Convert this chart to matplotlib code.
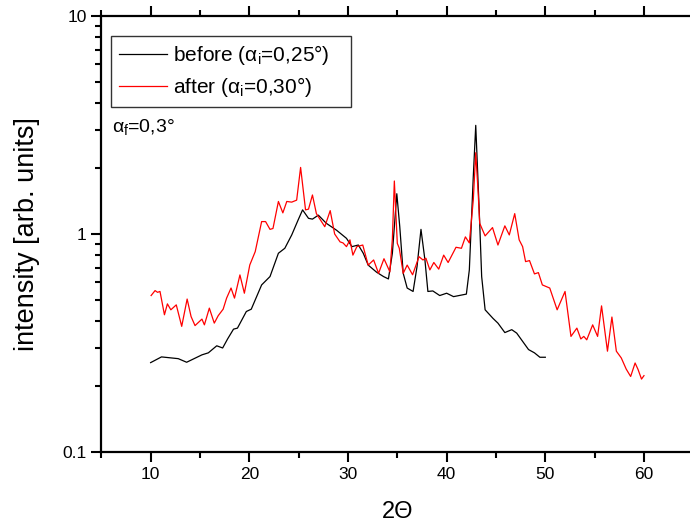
import matplotlib
matplotlib.use('Agg')
import matplotlib.pyplot as plt
from matplotlib.ticker import LogLocator, FixedLocator, FuncFormatter, MultipleLocator

plt.rcParams['font.family'] = ['Liberation Sans', 'DejaVu Sans']
plt.rcParams['mathtext.fontset'] = 'custom'
plt.rcParams['mathtext.rm'] = 'Liberation Sans'
plt.rcParams['mathtext.it'] = 'Liberation Sans'

# before (alpha_i = 0,25 deg)
before_x = [10.0, 11.1, 12.8, 13.65, 15.2, 15.85, 16.7, 17.3, 17.8, 18.4, 18.8, 19.7,
            20.2, 21.25, 22.1, 22.95, 23.6, 24.3, 24.95, 25.4, 26.0, 26.4, 27.0, 27.8,
            28.85, 29.85, 30.4, 31.05, 31.55, 32.05, 32.9, 33.6, 34.1, 34.5, 34.95, 35.25,
            35.6, 36.0, 36.6, 37.0, 37.4, 37.8, 38.1, 38.6, 39.3, 40.0, 40.7, 42.0,
            42.3, 42.7, 42.95, 43.3, 43.55, 43.9, 44.7, 45.2, 45.9, 46.6, 47.1, 48.3,
            48.9, 49.45, 50.0]
before_y = [0.257, 0.273, 0.268, 0.258, 0.279, 0.285, 0.307, 0.300, 0.33, 0.366, 0.370, 0.441,
            0.452, 0.584, 0.638, 0.816, 0.86, 0.99, 1.16, 1.29, 1.18, 1.17, 1.22, 1.12,
            1.04, 0.955, 0.875, 0.89, 0.816, 0.72, 0.668, 0.638, 0.622, 0.816, 1.53, 1.08,
            0.66, 0.565, 0.545, 0.709, 1.05, 0.76, 0.545, 0.548, 0.522, 0.535, 0.516, 0.53,
            0.684, 1.83, 3.15, 1.29, 0.638, 0.449, 0.41, 0.39, 0.353, 0.364, 0.351, 0.295,
            0.285, 0.272, 0.272]

# after (alpha_i = 0,30 deg)
after_x = [10.05, 10.45, 10.7, 10.95, 11.4, 11.7, 12.05, 12.6, 13.15, 13.7, 14.1, 14.5,
           15.2, 15.45, 15.95, 16.45, 16.85, 17.35, 17.7, 18.15, 18.5, 19.05, 19.5, 20.05,
           20.6, 21.25, 21.65, 22.1, 22.4, 22.95, 23.4, 23.8, 24.3, 24.8, 25.2, 25.7,
           26.0, 26.4, 26.8, 27.65, 28.2, 28.65, 29.2, 29.5, 29.85, 30.2, 30.5, 30.9,
           31.5, 32.05, 32.6, 33.1, 33.65, 34.25, 34.5, 34.7, 35.0, 35.2, 35.6, 36.0,
           36.55, 37.2, 37.6, 37.9, 38.3, 38.7, 39.2, 39.7, 40.15, 40.95, 41.5, 41.9,
           42.3, 42.7, 42.95, 43.2, 43.35, 43.9, 44.65, 45.2, 45.9, 46.35, 46.9, 47.35,
           47.7, 48.0, 48.4, 48.9, 49.3, 49.7, 50.45, 51.2, 52.0, 52.6, 53.2, 53.6,
           53.9, 54.2, 54.8, 55.3, 55.7, 56.3, 56.75, 57.2, 57.7, 58.2, 58.65, 59.1,
           59.4, 59.75, 60.0]
after_y = [0.522, 0.55, 0.54, 0.545, 0.426, 0.478, 0.449, 0.473, 0.377, 0.503, 0.418, 0.38,
           0.407, 0.383, 0.457, 0.39, 0.422, 0.452, 0.508, 0.565, 0.508, 0.649, 0.535, 0.721,
           0.83, 1.14, 1.14, 1.05, 1.06, 1.41, 1.25, 1.41, 1.40, 1.43, 2.02, 1.29,
           1.30, 1.51, 1.24, 1.08, 1.28, 1.0, 0.92, 0.91, 0.875, 0.94, 0.80, 0.875,
           0.89, 0.72, 0.76, 0.66, 0.77, 0.67, 0.95, 1.75, 0.906, 0.86, 0.66, 0.72,
           0.65, 0.787, 0.76, 0.774, 0.684, 0.74, 0.69, 0.80, 0.74, 0.869, 0.86, 0.97,
           0.91, 1.43, 2.36, 1.53, 1.12, 0.98, 1.07, 0.89, 1.09, 0.99, 1.24, 0.94,
           0.875, 0.747, 0.755, 0.656, 0.665, 0.584, 0.565, 0.449, 0.545, 0.339, 0.37, 0.33,
           0.339, 0.327, 0.383, 0.339, 0.468, 0.290, 0.416, 0.290, 0.27, 0.240, 0.222, 0.256,
           0.239, 0.216, 0.224]

fig = plt.figure(figsize=(6.9, 5.26), dpi=100)
ax = fig.add_axes([0.1468, 0.1407, 0.858, 0.8289])

ax.plot(before_x, before_y, color='black', lw=0.9, solid_joinstyle='round',
        label=r'before ($\alpha_\mathrm{i}$=0,25°)')
ax.plot(after_x, after_y, color='red', lw=0.9, solid_joinstyle='round',
        label=r'after ($\alpha_\mathrm{i}$=0,30°)')

ax.set_yscale('log')
ax.set_xlim(5, 65)
ax.set_ylim(0.1, 10)

ax.xaxis.set_major_locator(FixedLocator([10, 20, 30, 40, 50, 60]))
ax.xaxis.set_minor_locator(MultipleLocator(5))
ax.yaxis.set_major_locator(FixedLocator([0.1, 1, 10]))
ax.yaxis.set_minor_locator(LogLocator(base=10, subs=range(2, 10)))
ax.yaxis.set_major_formatter(FuncFormatter(lambda v, p: '%g' % v))
ax.yaxis.set_minor_formatter(FuncFormatter(lambda v, p: ''))

ax.tick_params(which='major', direction='out', length=7, width=1.5, labelsize=12.5,
               top=True, labeltop=False)
ax.tick_params(which='minor', direction='out', length=4, width=1.5, top=True)
for s in ax.spines.values():
    s.set_linewidth(1.6)

ax.set_xlabel('2Θ', fontsize=17, labelpad=14)
ax.set_ylabel('intensity [arb. units]', fontsize=19.5, labelpad=16)

ax.text(0.018, 0.745, r'$\alpha_\mathrm{f}$=0,3°', transform=ax.transAxes, fontsize=14, va='center')

leg = ax.legend(loc='upper left', bbox_to_anchor=(0.017, 0.5, 0.405, 0.455), mode='expand',
                fontsize=15, frameon=True, fancybox=False, handlelength=2.3,
                borderpad=0.35, labelspacing=0.4, handletextpad=0.3, borderaxespad=0)
leg.get_frame().set_edgecolor('black')
leg.get_frame().set_linewidth(1.0)

fig.savefig('out.png', dpi=100)
